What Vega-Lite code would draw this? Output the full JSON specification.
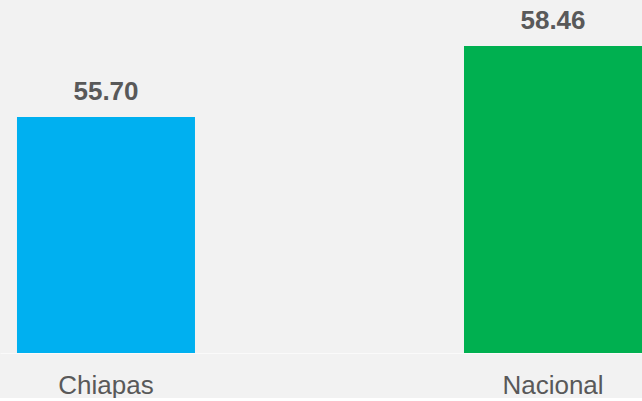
{
  "$schema": "https://vega.github.io/schema/vega-lite/v6.json",
  "width": 642,
  "height": 353,
  "padding": 0,
  "background": "#f2f2f2",
  "config": {"view": {"stroke": null}, "font": "Liberation Sans"},
  "data": {"values": [
    {"region": "Chiapas", "valor": 55.70, "label": "55.70"},
    {"region": "Nacional", "valor": 58.46, "label": "58.46"}
  ]},
  "encoding": {
    "x": {"field": "region", "type": "nominal", "sort": null,
      "scale": {"paddingInner": 0.6018, "paddingOuter": 0.019, "align": 1},
      "axis": {"title": null, "labelAngle": 0, "labelFontSize": 26, "labelColor": "#595959",
        "labelPadding": 19, "domainColor": "#fafafa", "domainWidth": 1, "ticks": false, "labelFont": "Liberation Sans"}},
    "y": {"field": "valor", "type": "quantitative",
      "scale": {"domain": [46.52, 60.25], "zero": false, "nice": false},
      "axis": null}
  },
  "layer": [
    {"mark": {"type": "bar", "clip": true},
      "encoding": {"color": {"field": "region", "type": "nominal", "legend": null,
        "scale": {"domain": ["Chiapas", "Nacional"], "range": ["#00b0f0", "#00b050"]}}}},
    {"mark": {"type": "text", "baseline": "alphabetic", "dy": -17, "fontSize": 26, "fontWeight": "bold", "color": "#595959"},
      "encoding": {"text": {"field": "label"}}}
  ]
}
